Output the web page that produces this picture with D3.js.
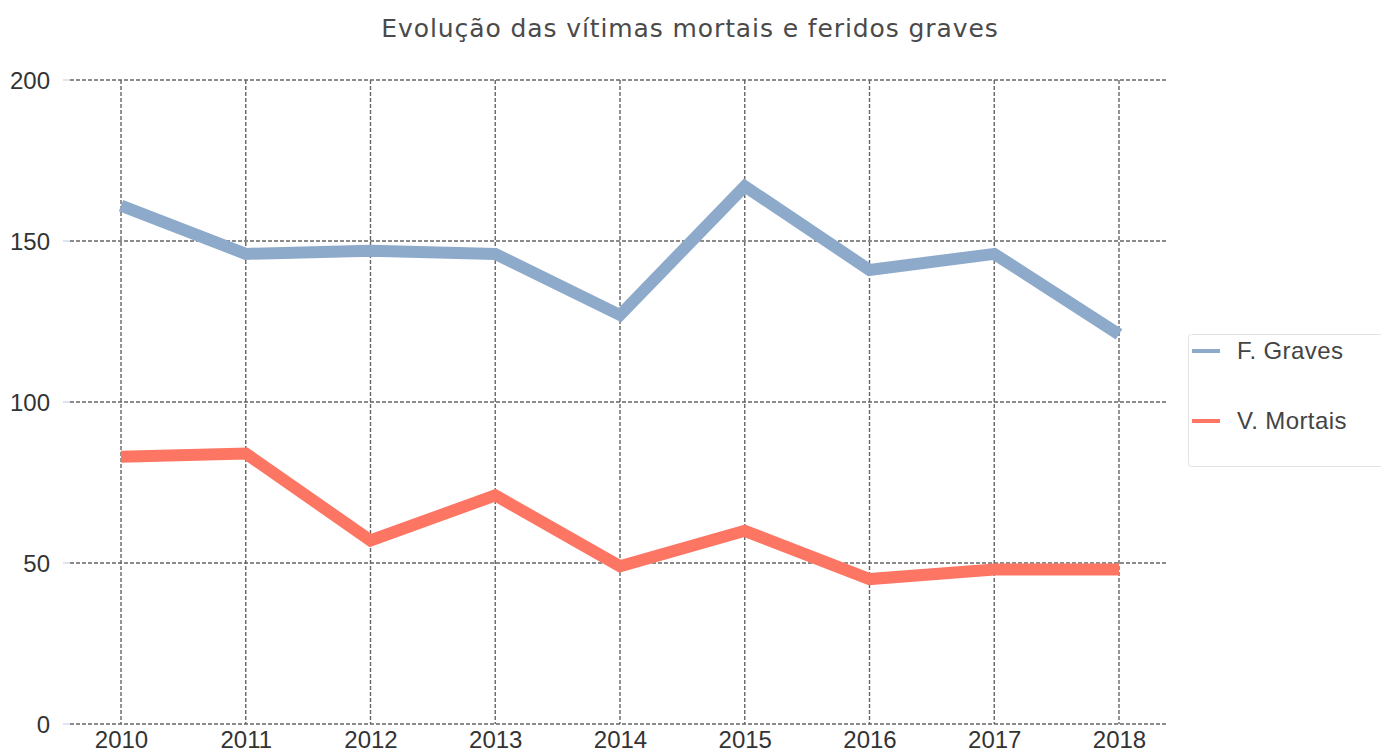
<!DOCTYPE html>
<html>
<head>
<meta charset="utf-8">
<script src="https://cdn.jsdelivr.net/npm/d3@7"></script>
<style>
  body { margin: 0; background: #fff; }
  svg { display: block; }
</style>
</head>
<body>
<svg id="chart" width="1381" height="753"></svg>
<script>
const years = [2010, 2011, 2012, 2013, 2014, 2015, 2016, 2017, 2018];
const fGraves = [161, 146, 147, 146, 127, 167, 141, 146, 121];
const vMortais = [83, 84, 57, 71, 49, 60, 45, 48, 48];
const yTicks = [0, 50, 100, 150, 200];
const seriesNames = ["F. Graves", "V. Mortais"];
const seriesColors = ["#8eaacb", "#fd7664"];
const title = "Evolução das vítimas mortais e feridos graves";

const svg = d3.select("#chart");
const x = d3.scalePoint().domain(years).range([121, 1119]);
const y = d3.scaleLinear().domain([0, 200]).range([724, 80]);
const gridLeft = 70, gridRight = 1167;
const tickFont = "'Liberation Sans', Arial, sans-serif";

// Title
svg.append("text")
  .attr("x", 690).attr("y", 37)
  .attr("text-anchor", "middle")
  .attr("font-family", "'DejaVu Sans', sans-serif")
  .attr("font-size", 25)
  .attr("letter-spacing", 0.9)
  .attr("fill", "#4a4a4a")
  .text(title);

// Small axis ticks
svg.append("g").selectAll("line").data(yTicks).join("line")
  .attr("x1", 63).attr("x2", 70)
  .attr("y1", d => y(d)).attr("y2", d => y(d))
  .attr("stroke", "#c5d3e6").attr("stroke-width", 1.2);

// Horizontal grid
svg.append("g").selectAll("line").data(yTicks).join("line")
  .attr("x1", gridLeft).attr("x2", gridRight)
  .attr("y1", d => y(d)).attr("y2", d => y(d))
  .attr("stroke", "#666").attr("stroke-width", 1.4)
  .attr("stroke-dasharray", "4,2");

// Vertical grid
svg.append("g").selectAll("line").data(years).join("line")
  .attr("x1", d => x(d)).attr("x2", d => x(d))
  .attr("y1", y(200)).attr("y2", y(0))
  .attr("stroke", "#666").attr("stroke-width", 1.4)
  .attr("stroke-dasharray", "4,2");

// Y axis labels
const yAxis = d3.axisLeft(y).tickValues(yTicks).tickSize(0).tickPadding(0);
const gy = svg.append("g").attr("transform", "translate(50,0)").call(yAxis);
gy.select(".domain").remove();
gy.selectAll("text")
  .attr("font-family", tickFont).attr("font-size", 24).attr("fill", "#333")
  .attr("dy", "0.35em");

// X axis labels
const xAxis = d3.axisBottom(x).tickSize(0).tickPadding(0);
const gx = svg.append("g").attr("transform", "translate(0,731)").call(xAxis);
gx.select(".domain").remove();
gx.selectAll("text")
  .attr("font-family", tickFont).attr("font-size", 24).attr("fill", "#333")
  .attr("dy", "0.71em");

// Lines
const line = d3.line().x((d, i) => x(years[i])).y(d => y(d));
[fGraves, vMortais].forEach((vals, i) => {
  svg.append("path")
    .datum(vals)
    .attr("d", line)
    .attr("fill", "none")
    .attr("stroke", seriesColors[i])
    .attr("stroke-width", 12)
    .attr("stroke-linejoin", "miter");
});

// Legend
const lg = svg.append("g");
lg.append("rect")
  .attr("x", 1188.5).attr("y", 334.5).attr("width", 200).attr("height", 132)
  .attr("rx", 3)
  .attr("fill", "#fff").attr("stroke", "#e3e3e3").attr("stroke-width", 1);
seriesNames.forEach((name, i) => {
  const cy = 351 + i * 70;
  lg.append("line")
    .attr("x1", 1192).attr("x2", 1220).attr("y1", cy).attr("y2", cy)
    .attr("stroke", seriesColors[i]).attr("stroke-width", 4);
  lg.append("text")
    .attr("x", 1237).attr("y", cy).attr("dy", "0.35em")
    .attr("font-family", "'Liberation Sans', Arial, sans-serif")
    .attr("font-size", 24).attr("letter-spacing", 0.4).attr("fill", "#444")
    .text(name);
});
</script>
</body>
</html>
